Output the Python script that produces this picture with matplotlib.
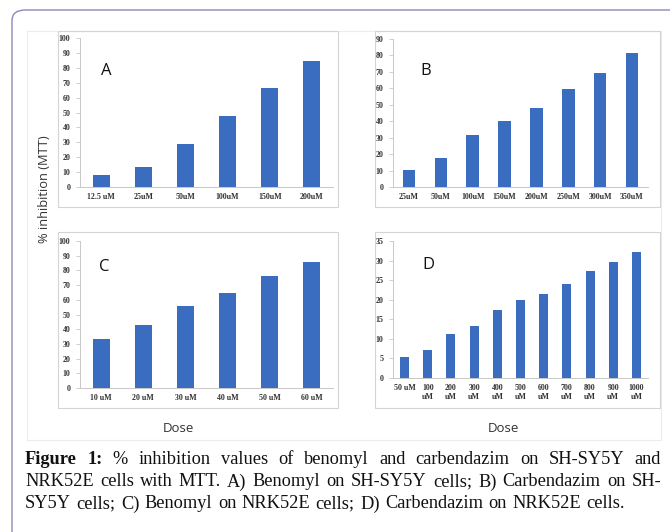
import matplotlib
matplotlib.use("Agg")
import matplotlib.pyplot as plt
from matplotlib.patches import Rectangle, FancyBboxPatch

W, H = 670, 532
DPI = 100

# ---------------- data ----------------
a_labels = ["12.5 uM", "25uM", "50uM", "100uM", "150uM", "200uM"]
a_values = [8.3, 13.5, 28.8, 47.6, 66.3, 84.7]

b_labels = ["25uM", "50uM", "100uM", "150uM", "200uM", "250uM", "300uM", "350uM"]
b_values = [10.6, 17.7, 31.8, 40.1, 47.9, 59.7, 69.6, 81.4]

c_labels = ["10 uM", "20 uM", "30 uM", "40 uM", "50 uM", "60 uM"]
c_values = [33.2, 42.9, 55.8, 64.3, 76.1, 86.0]

d_labels = ["50 uM", "100\nuM", "200\nuM", "300\nuM", "400\nuM", "500\nuM",
            "600\nuM", "700\nuM", "800\nuM", "900\nuM", "1000\nuM"]
d_values = [5.4, 7.2, 11.2, 13.2, 17.3, 19.8, 21.4, 23.9, 27.4, 29.7, 32.3]

y_label = "% inhibition (MTT)"
x_label = "Dose"
caption_lines = [
    [("Figure 1:", True), ("% inhibition values of benomyl and carbendazim on SH-SY5Y and", False)],
    [("NRK52E cells with MTT. A) Benomyl on SH-SY5Y cells; B) Carbendazim on SH-", False)],
    [("SY5Y cells; C) Benomyl on NRK52E cells; D) Carbendazim on NRK52E cells.", False)],
]

BAR = "#3a6cc0"
TICK = "#333333"
AXC = "#c8c8c8"
TFS = 5.7

fig = plt.figure(figsize=(W / DPI, H / DPI), dpi=DPI)
fig.patch.set_facecolor("white")


def fx(x):
    return x / W


def fy(y):
    return 1 - y / H


def rect_px(x0, y0, x1, y1, **kw):
    r = Rectangle((fx(x0), fy(y1)), (x1 - x0) / W, (y1 - y0) / H,
                  transform=fig.transFigure, fill=False, **kw)
    fig.add_artist(r)


# outer purple rounded frame (open to right/bottom)
frame = FancyBboxPatch((fx(12), fy(560)), (700 - 12) / W, (560 - 10) / H,
                       boxstyle="round,pad=0,rounding_size=0.02",
                       transform=fig.transFigure, fill=False,
                       edgecolor="#8a8ab8", linewidth=1.0)
fig.add_artist(frame)

# faint box around the chart image
rect_px(27, 31, 661, 440, edgecolor="#ececec", linewidth=0.8)

# panel boxes
rect_px(58, 31, 338, 207, edgecolor="#d4d4d4", linewidth=0.8)
rect_px(375, 31, 660, 207, edgecolor="#d4d4d4", linewidth=0.8)
rect_px(58, 232, 338, 408, edgecolor="#d4d4d4", linewidth=0.8)
rect_px(375, 232, 660, 408, edgecolor="#d4d4d4", linewidth=0.8)


def panel(x0, x1, ytop, y0, labels, values, ymax, step, letter, lpos, width):
    ax = fig.add_axes([fx(x0), fy(y0), (x1 - x0) / W, (y0 - ytop) / H])
    ax.set_facecolor("none")
    xs = list(range(len(values)))
    ax.bar(xs, values, width=width, color=BAR, edgecolor="none", zorder=3)
    ax.set_xlim(-0.5, len(values) - 0.5)
    ax.set_ylim(0, ymax)
    ax.set_yticks(list(range(0, ymax + 1, step)))
    ax.set_xticks(xs)
    ax.set_xticklabels(labels, fontsize=TFS, color=TICK, family="Liberation Serif",
                       fontweight="bold", linespacing=1.2)
    ax.tick_params(axis="y", labelsize=TFS, colors=AXC, labelcolor=TICK,
                   length=3, width=0.6, pad=4)
    for t in ax.get_yticklabels():
        t.set_family("Liberation Serif")
        t.set_fontweight("bold")
    ax.tick_params(axis="x", length=0, pad=4)
    for s in ("top", "right"):
        ax.spines[s].set_visible(False)
    for s in ("left", "bottom"):
        ax.spines[s].set_color(AXC)
        ax.spines[s].set_linewidth(0.7)
    fig.text(fx(lpos[0]), fy(lpos[1]), letter, fontsize=12, family="Open Sans",
             color="#111111", ha="center", va="center")
    return ax


panel(80, 333, 38, 187, a_labels, a_values, 100, 10, "A", (106, 71), 0.4)
panel(393, 648, 39, 187, b_labels, b_values, 90, 10, "B", (426, 71), 0.39)
panel(80, 333, 241, 388, c_labels, c_values, 100, 10, "C", (104, 267), 0.4)
panel(393, 648, 241, 378, d_labels, d_values, 35, 5, "D", (428, 265), 0.39)

fig.text(fx(44), fy(189), y_label, rotation=90, fontsize=9.3, family="Open Sans",
         color="#333333", ha="center", va="center")
fig.text(fx(178), fy(429), x_label, fontsize=9.5, family="Open Sans",
         color="#333333", ha="center", va="center")
fig.text(fx(503), fy(429), x_label, fontsize=9.5, family="Open Sans",
         color="#333333", ha="center", va="center")

# ---------------- caption (justified) ----------------
renderer = fig.canvas.get_renderer()
CX0, CX1 = 25, 661
LAST_END = 625
line_y = [460, 482, 504]
FS = 13.2
for li, segs in enumerate(caption_lines):
    words = []
    for txt, bold in segs:
        for w in txt.split(" "):
            words.append((w, bold))
    arts = []
    widths = []
    for w, bold in words:
        t = fig.text(0, fy(line_y[li]), w, fontsize=FS, family="Liberation Serif",
                     fontweight="bold" if bold else "normal", color="#111111",
                     va="center", ha="left")
        bb = t.get_window_extent(renderer=renderer)
        arts.append(t)
        widths.append(bb.width)
    total = sum(widths)
    end = CX1 if li < len(caption_lines) - 1 else LAST_END
    gap = max((end - CX0 - total) / (len(words) - 1), 3.5)
    x = CX0
    for t, wdt in zip(arts, widths):
        t.set_x(fx(x))
        x += wdt + gap

fig.savefig("out.png", dpi=DPI, facecolor="white")
